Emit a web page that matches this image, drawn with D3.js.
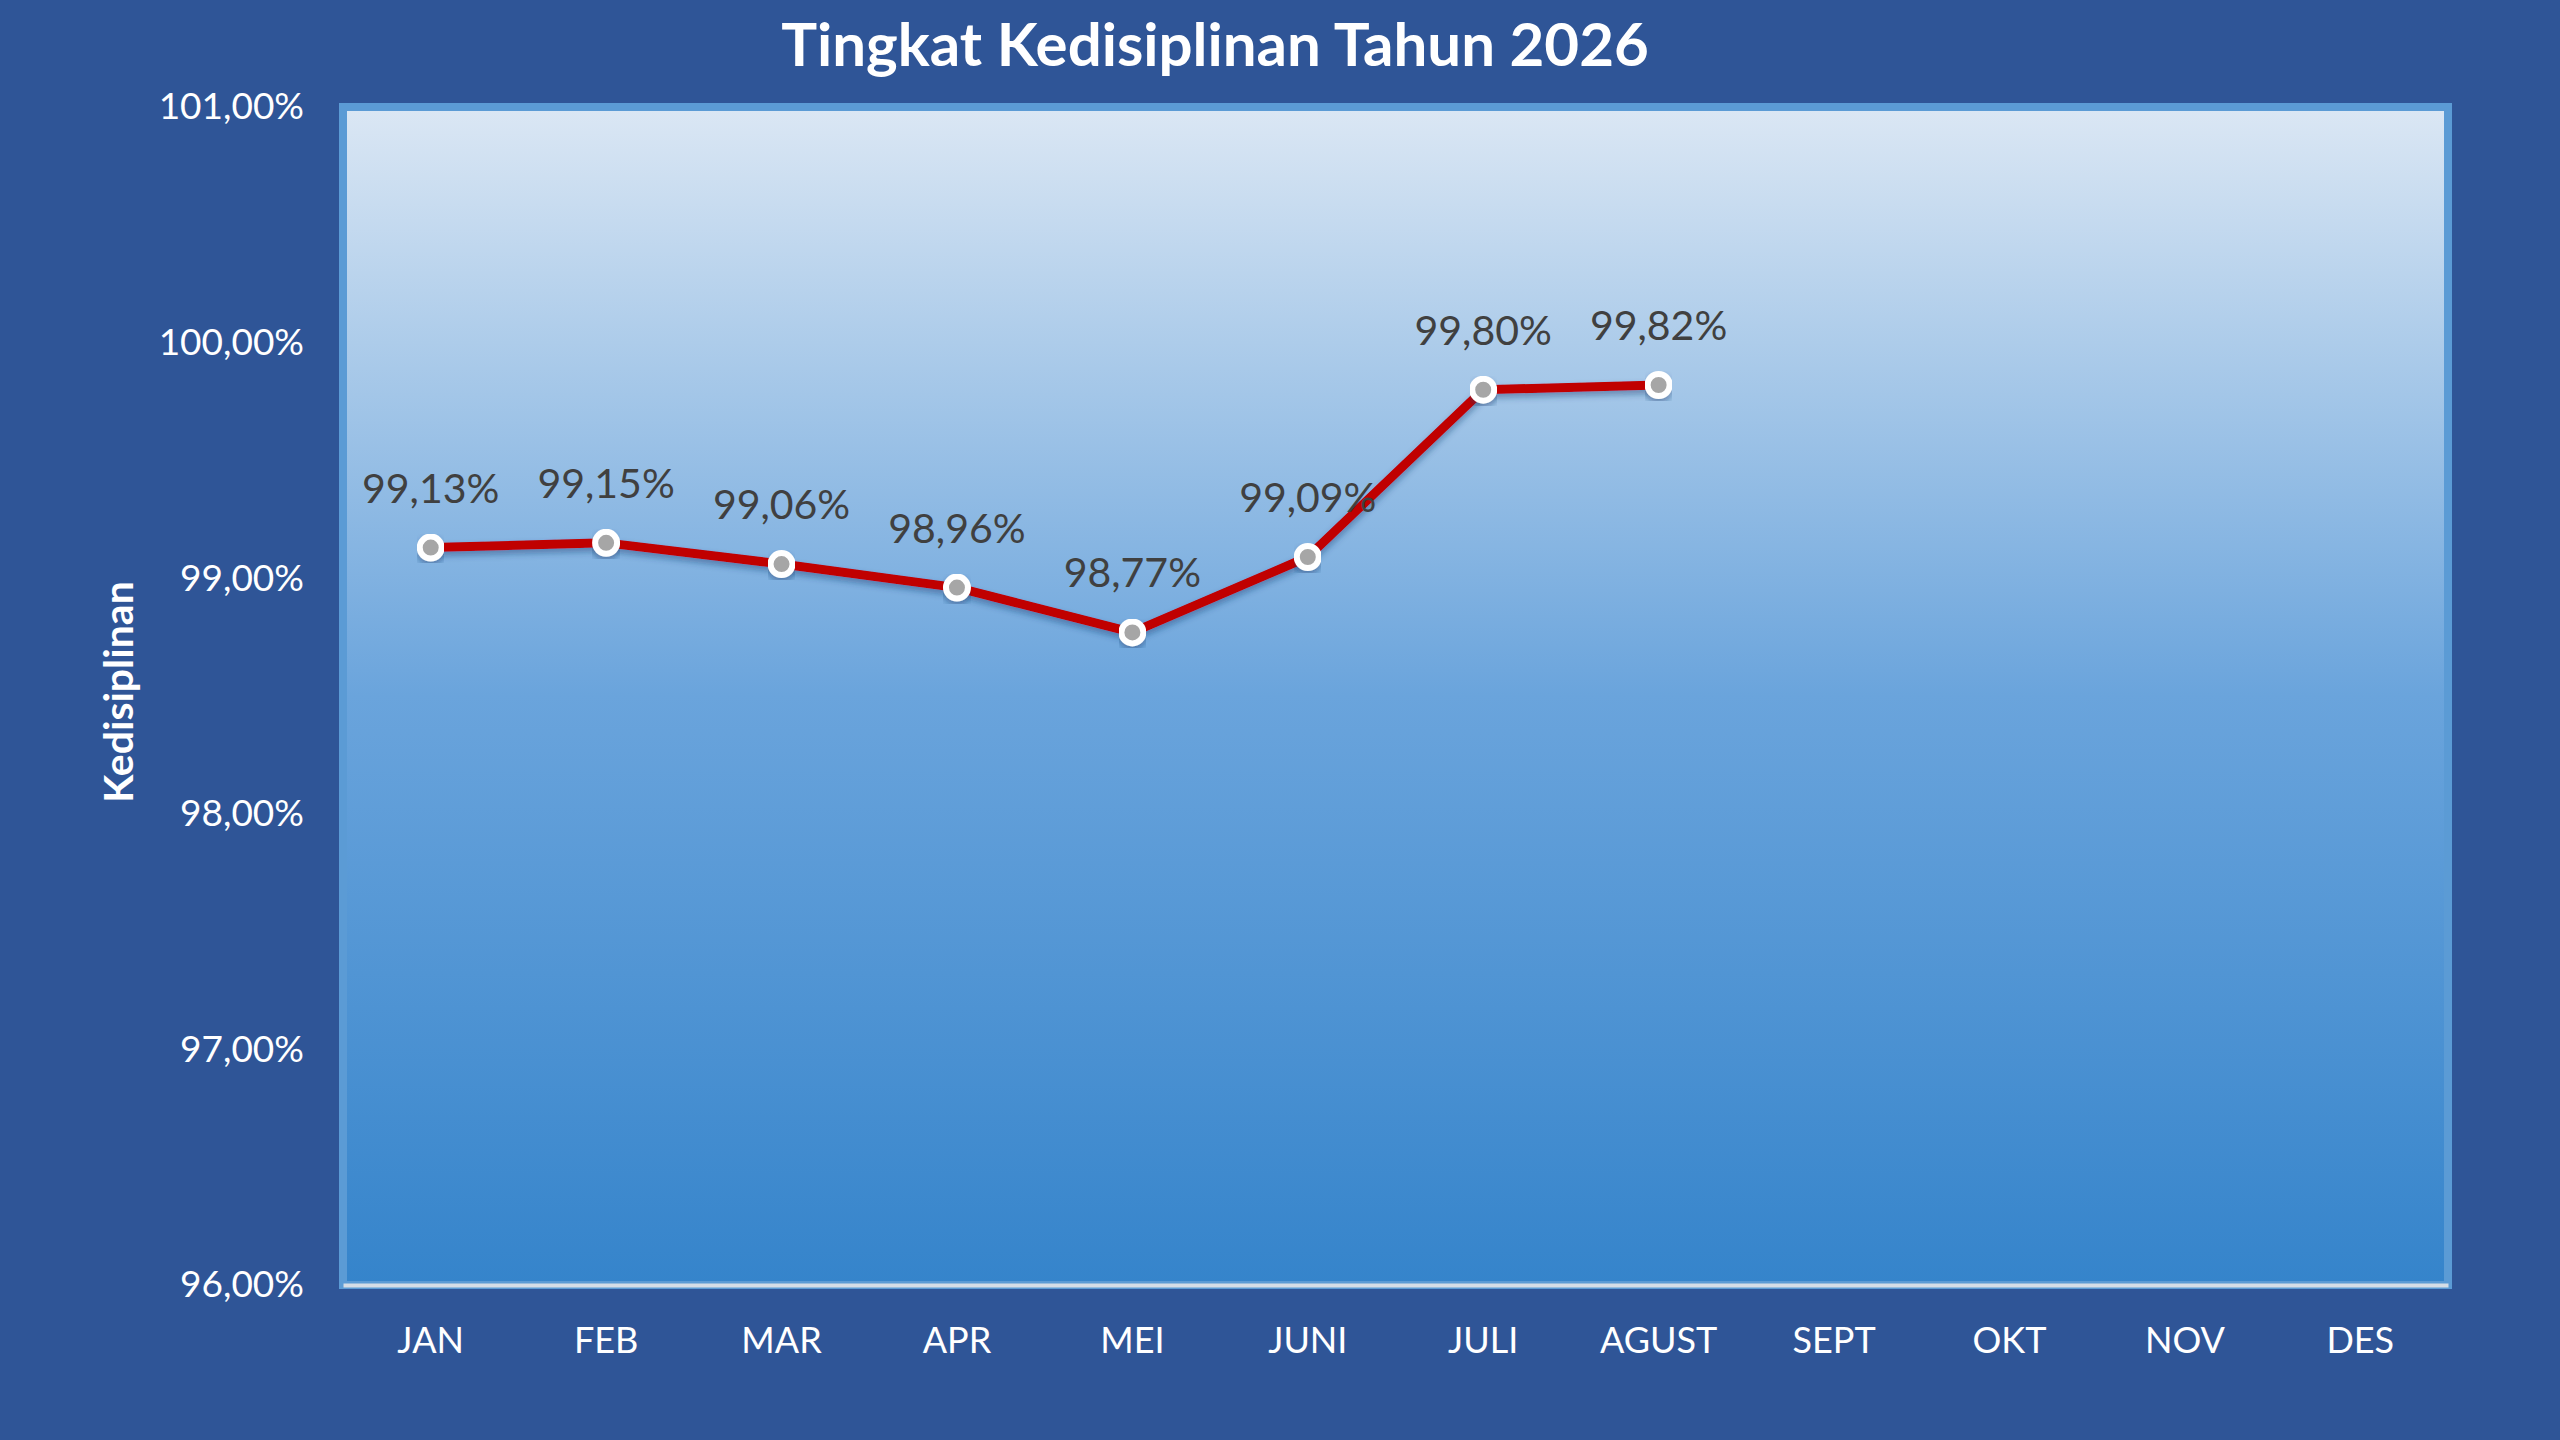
<!DOCTYPE html>
<html>
<head>
<meta charset="utf-8">
<script src="https://cdn.jsdelivr.net/npm/d3@7"></script>
<style>
  html, body { margin: 0; padding: 0; background: #2F5597; }
  svg { display: block; }
</style>
</head>
<body>
<svg id="chart"></svg>
<script>
// data
const months = ['JAN', 'FEB', 'MAR', 'APR', 'MEI', 'JUNI', 'JULI', 'AGUST', 'SEPT', 'OKT', 'NOV', 'DES'];
const values = [99.13, 99.15, 99.06, 98.96, 98.77, 99.09, 99.80, 99.82];
const yTicks = [96, 97, 98, 99, 100, 101];

const width = 2560;
const height = 1440;
const margin = { top: 107, right: 112, bottom: 155, left: 343 };
const font = 'Lato, "Open Sans", sans-serif';

const svg = d3.select('#chart')
  .attr('width', width)
  .attr('height', height)
  .attr('viewBox', [0, 0, width, height]);

svg.append('rect')
  .attr('width', width)
  .attr('height', height)
  .attr('fill', '#2F5597');

const defs = svg.append('defs');
const grad = defs.append('linearGradient')
  .attr('id', 'plotBg')
  .attr('x1', 0).attr('y1', 0).attr('x2', 0).attr('y2', 1);
grad.append('stop').attr('offset', '0%').attr('stop-color', '#DBE7F4');
grad.append('stop').attr('offset', '20%').attr('stop-color', '#ADCCEA');
grad.append('stop').attr('offset', '50%').attr('stop-color', '#6AA4DC');
grad.append('stop').attr('offset', '100%').attr('stop-color', '#3584CB');

const shadow = defs.append('filter')
  .attr('id', 'shadow')
  .attr('x', '-10%').attr('y', '-10%').attr('width', '120%').attr('height', '130%');
shadow.append('feDropShadow')
  .attr('dx', 0).attr('dy', 4).attr('stdDeviation', 3)
  .attr('flood-color', '#1F3D70').attr('flood-opacity', 0.45);

const x = d3.scaleBand()
  .domain(months)
  .range([margin.left, width - margin.right]);

const y = d3.scaleLinear()
  .domain([96, 101])
  .range([height - margin.bottom, margin.top]);

// plot area
svg.append('rect')
  .attr('x', margin.left)
  .attr('y', margin.top)
  .attr('width', width - margin.left - margin.right)
  .attr('height', height - margin.top - margin.bottom)
  .attr('fill', 'url(#plotBg)')
  .attr('stroke', '#5B9BD5')
  .attr('stroke-width', 8);

// title
svg.append('text')
  .attr('x', 1215)
  .attr('y', 66)
  .attr('text-anchor', 'middle')
  .attr('fill', '#FFFFFF')
  .style('font-family', font)
  .style('font-weight', 'bold')
  .style('font-size', '60px')
  .text('Tingkat Kedisiplinan Tahun 2026');

// y axis
const yAxis = svg.append('g')
  .attr('transform', `translate(${margin.left - 39},0)`)
  .call(d3.axisLeft(y)
    .tickValues(yTicks)
    .tickSize(0)
    .tickPadding(0)
    .tickFormat(d => d3.format('.2f')(d).replace('.', ',') + '%'));
yAxis.select('.domain').remove();
yAxis.selectAll('text')
  .attr('fill', '#FFFFFF')
  .style('font-family', font)
  .style('font-size', '37px');

// x axis
const xAxis = svg.append('g')
  .attr('transform', `translate(0,${height - margin.bottom})`)
  .call(d3.axisBottom(x).tickSize(0).tickPadding(42));
xAxis.select('.domain')
  .attr('stroke', '#D5DDE6')
  .attr('stroke-width', 4);
xAxis.selectAll('text')
  .attr('fill', '#FFFFFF')
  .style('font-family', font)
  .style('font-size', '36px');

// y axis title
svg.append('text')
  .attr('transform', 'translate(133,692) rotate(-90)')
  .attr('text-anchor', 'middle')
  .attr('fill', '#FFFFFF')
  .style('font-family', font)
  .style('font-weight', 'bold')
  .style('font-size', '41px')
  .text('Kedisiplinan');

const points = values.map((v, i) => ({ month: months[i], value: v }));
const cx = d => x(d.month) + x.bandwidth() / 2;

const line = d3.line()
  .x(cx)
  .y(d => y(d.value));

svg.append('path')
  .datum(points)
  .attr('fill', 'none')
  .attr('stroke', '#C00000')
  .attr('stroke-width', 9)
  .attr('stroke-linejoin', 'round')
  .attr('filter', 'url(#shadow)')
  .attr('d', line);

svg.append('g')
  .selectAll('circle')
  .data(points)
  .join('circle')
  .attr('cx', cx)
  .attr('cy', d => y(d.value))
  .attr('r', 11)
  .attr('fill', '#A6A6A6')
  .attr('stroke', '#FFFFFF')
  .attr('stroke-width', 6)
  .attr('filter', 'url(#shadow)');

svg.append('g')
  .selectAll('text')
  .data(points)
  .join('text')
  .attr('x', cx)
  .attr('y', d => y(d.value) - 45)
  .attr('text-anchor', 'middle')
  .attr('fill', '#404040')
  .style('font-family', font)
  .style('font-size', '41px')
  .text(d => d3.format('.2f')(d.value).replace('.', ',') + '%');
</script>
</body>
</html>
